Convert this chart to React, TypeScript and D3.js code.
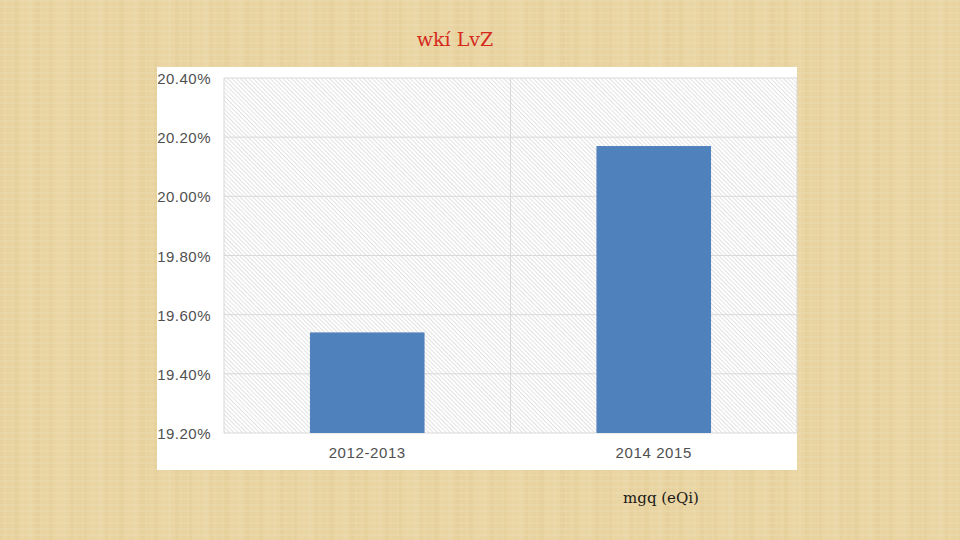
import React from "react";
import * as d3 from "d3";

const categories = ["2012-2013", "2014 2015"];
const values = [19.54, 20.17];
const yTicks = [19.2, 19.4, 19.6, 19.8, 20.0, 20.2, 20.4];
const title = "wkí LvZ";
const footnote = "mgq (eQi)";

const W = 960;
const H = 540;
const frame = { x: 157, y: 67, w: 640, h: 403 };
const plot = { left: 224, right: 797, top: 78, bottom: 433 };

export default function App() {
  const y = d3.scaleLinear().domain([19.2, 20.4]).range([plot.bottom, plot.top]);
  const x = d3
    .scaleBand<string>()
    .domain(categories)
    .range([plot.left, plot.right])
    .paddingInner(0)
    .paddingOuter(0);
  const barW = x.bandwidth() * 0.4;

  const stripes = d3.range(0, W, 7);
  const stripeColors = ["#e2ca92", "#edd9aa", "#e6cf9b", "#efdeb2", "#e0c78d"];

  return (
    <svg
      width={W}
      height={H}
      style={{ position: "absolute", left: 0, top: 0, display: "block" }}
    >
      <defs>
        <pattern
          id="hatch"
          width="3"
          height="3"
          patternUnits="userSpaceOnUse"
          patternTransform="rotate(-45)"
        >
          <line x1="0.5" y1="0" x2="0.5" y2="3" stroke="#dadada" strokeWidth="0.8" />
        </pattern>
        <pattern id="weaveH" width="960" height="6" patternUnits="userSpaceOnUse">
          <rect x="0" y="0" width="960" height="2" fill="#f3e6c2" opacity="0.2" />
        </pattern>
      </defs>
      <rect x={0} y={0} width={W} height={H} fill="#e9d4a2" />
      {stripes.map((s, i) => (
        <rect
          key={i}
          x={s}
          y={0}
          width={3 + (i % 3)}
          height={H}
          fill={stripeColors[(i * 7) % stripeColors.length]}
          opacity={0.3}
        />
      ))}
      <rect x={0} y={0} width={W} height={H} fill="url(#weaveH)" />

      <text
        x={455}
        y={46}
        textAnchor="middle"
        fill="#d42a1c"
        fontFamily="'DejaVu Serif', 'Liberation Serif', serif"
        fontSize={19}
      >
        {title}
      </text>

      <rect x={frame.x} y={frame.y} width={frame.w} height={frame.h} fill="#ffffff" />
      <rect
        x={plot.left}
        y={plot.top}
        width={plot.right - plot.left}
        height={plot.bottom - plot.top}
        fill="url(#hatch)"
      />
      {yTicks.map((t) => (
        <line
          key={t}
          x1={plot.left}
          x2={plot.right}
          y1={y(t)}
          y2={y(t)}
          stroke="#d9d9d9"
          strokeWidth={1}
        />
      ))}
      {[plot.left, plot.left + x.step(), plot.right].map((vx, i) => (
        <line
          key={i}
          x1={vx}
          x2={vx}
          y1={plot.top}
          y2={plot.bottom}
          stroke="#d9d9d9"
          strokeWidth={1}
        />
      ))}
      {categories.map((c, i) => (
        <rect
          key={c}
          x={(x(c) as number) + (x.bandwidth() - barW) / 2}
          y={y(values[i])}
          width={barW}
          height={plot.bottom - y(values[i])}
          fill="#4f81bd"
        />
      ))}
      {yTicks.map((t) => (
        <text
          key={t}
          x={211}
          y={y(t) + 6}
          textAnchor="end"
          fill="#505050"
          fontFamily="'Liberation Sans', Arial, sans-serif"
          fontSize={15}
          letterSpacing={0.5}
        >
          {t.toFixed(2) + "%"}
        </text>
      ))}
      {categories.map((c) => (
        <text
          key={c}
          x={(x(c) as number) + x.bandwidth() / 2}
          y={458}
          textAnchor="middle"
          fill="#505050"
          fontFamily="'Liberation Sans', Arial, sans-serif"
          fontSize={15}
          letterSpacing={0.6}
        >
          {c}
        </text>
      ))}

      <text
        x={661}
        y={503}
        textAnchor="middle"
        fill="#1a1a1a"
        fontFamily="'DejaVu Serif', 'Liberation Serif', serif"
        fontSize={15}
      >
        {footnote}
      </text>
    </svg>
  );
}
